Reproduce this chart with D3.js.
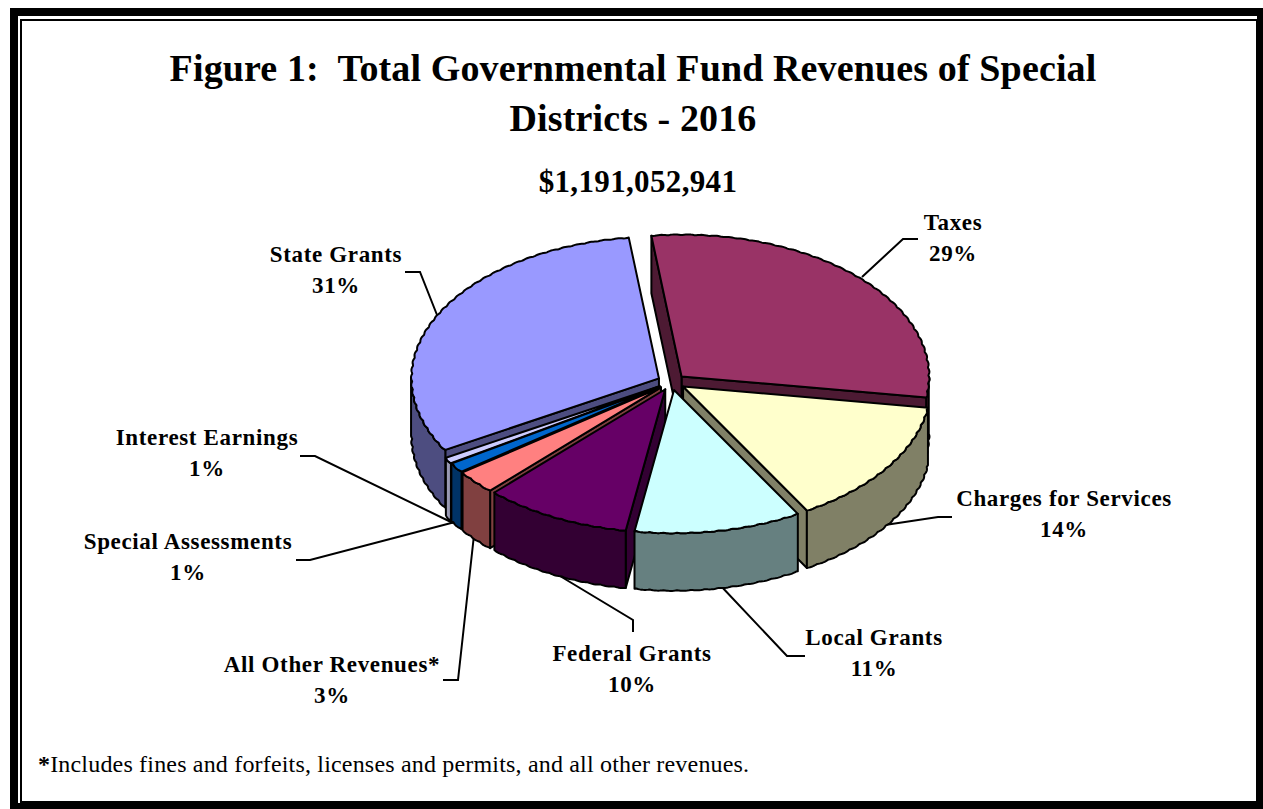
<!DOCTYPE html>
<html lang="en">
<head>
  <meta charset="UTF-8">
  <title>Total Governmental Fund Revenues of Special Districts - 2016</title>
  <script src="https://d3js.org/d3.v7.min.js"></script>
  <style>
    body { margin: 0; background: #fff; }
    svg { display: block; }
    text { font-family: "Liberation Serif", serif; fill: #000; }
    .title { font-size: 38px; font-weight: bold; text-anchor: middle; letter-spacing: 0.13px; }
    .total { font-size: 31px; font-weight: bold; text-anchor: middle; letter-spacing: 0.35px; }
    .label { font-size: 23px; font-weight: bold; text-anchor: middle; letter-spacing: 0.65px; }
    .note { font-size: 24px; letter-spacing: 0.18px; }
  </style>
</head>
<body>
<svg id="chart" width="1263" height="809" viewBox="0 0 1263 809"></svg>
<script>
  // values are share of the circle
  const categories = ["Taxes", "Charges for Services", "Local Grants", "Federal Grants",
    "All Other Revenues*", "Special Assessments", "Interest Earnings", "State Grants"];
  const shares = [29.3, 14.3, 10.9, 9.6, 2.7, 1.1, 0.7, 31.4];
  const topColors = ["#993366", "#ffffcc", "#ccffff", "#660066", "#ff8080", "#0066cc", "#ccccff", "#9999ff"];
  const sideColors = ["#4d1a33", "#808066", "#668080", "#330033", "#804040", "#003366", "#9999b3", "#4d4d80"];
  const titleLines = ["Figure 1:  Total Governmental Fund Revenues of Special", "Districts - 2016"];
  const totalText = "$1,191,052,941";
  const noteText = "Includes fines and forfeits, licenses and permits, and all other revenues.";

  // layout of the labels, same order as categories
  const labelAt = [[953, 230], [1064, 506], [874, 645], [632, 661], [332, 672], [188, 549], [207, 445], [336, 262]];
  const leaders = [
    [[862, 277], [903, 239], [918, 239]],
    [[885, 525], [938, 517], [952, 517]],
    [[720, 585], [787, 656], [805, 656]],
    [[555, 573], [633, 620], [633, 632]],
    [[474, 535], [458, 680], [443, 680]],
    [[455, 522], [310, 560], [296, 560]],
    [[453, 523], [315, 456], [300, 456]],
    [[439, 320], [420, 272], [405, 272]]
  ];

  const svg = d3.select("#chart");
  const rad = Math.PI / 180;
  const depth = 57.5;
  const explode = 0.0565;

  const xScale = d3.scaleLinear().domain([-1, 1]).range([671.5 - 248, 671.5 + 248]);
  // front half is a touch deeper than the back
  const yScale = d3.scaleLinear().domain([-1, 0, 1]).range([382 - 142, 382, 382 + 143.5]);
  const line = d3.line();

  // frame
  svg.append("rect").attr("width", 1263).attr("height", 809).attr("fill", "#fff");
  svg.append("rect").attr("x", 14).attr("y", 12).attr("width", 1247).attr("height", 795)
    .attr("fill", "none").attr("stroke", "#000").attr("stroke-width", 8);
  svg.append("rect").attr("x", 21).attr("y", 20).attr("width", 1236).attr("height", 782)
    .attr("fill", "none").attr("stroke", "#000").attr("stroke-width", 2);

  svg.selectAll(".title").data(titleLines).join("text")
    .attr("class", "title")
    .attr("x", 633)
    .attr("y", (d, i) => 81 + i * 50)
    .style("white-space", "pre")
    .text(d => d);
  svg.append("text").attr("class", "total").attr("x", 638).attr("y", 192).text(totalText);

  // pie
  const pie = d3.pie().sort(null).value(d => d)
    .startAngle(-7 * rad).endAngle(353 * rad);
  const arcs = pie(shares);

  function apex(d) {
    const mid = (d.startAngle + d.endAngle) / 2;
    return [explode * Math.sin(mid), -explode * Math.cos(mid)];
  }
  // rim radius dips a little every few degrees, the original edge is scalloped
  function rim(d, t) {
    const a = apex(d);
    const r = 1 - 0.005 * (1 - Math.abs(Math.sin(t / (3.2 * rad) * Math.PI)));
    return [xScale(a[0] + r * Math.sin(t)), yScale(a[1] - r * Math.cos(t))];
  }
  function center(d) {
    const a = apex(d);
    return [xScale(a[0]), yScale(a[1])];
  }
  function arcPoints(d, t0, t1) {
    const n = Math.max(2, Math.ceil((t1 - t0) / (0.4 * rad)));
    return d3.range(n + 1).map(i => rim(d, t0 + (t1 - t0) * i / n));
  }
  const down = p => [p[0], p[1] + depth];

  function shape(points, fill) {
    svg.append("path")
      .attr("d", line(points) + "Z")
      .attr("fill", fill)
      .attr("stroke", "#000")
      .attr("stroke-width", 2)
      .attr("stroke-linejoin", "round");
  }

  function drawSlice(i) {
    const d = arcs[i];
    const c = center(d);
    const t0 = d.startAngle, t1 = d.endAngle;
    if (Math.sin(t1) > 0) {
      const p = rim(d, t1);
      shape([c, p, down(p), down(c)], sideColors[i]);
    }
    if (Math.sin(t0) < 0) {
      const p = rim(d, t0);
      shape([c, p, down(p), down(c)], sideColors[i]);
    }
    const w0 = Math.max(t0, 90 * rad), w1 = Math.min(t1, 270 * rad);
    if (w1 > w0) {
      const top = arcPoints(d, w0, w1);
      shape(top.concat(top.map(down).reverse()), sideColors[i]);
    }
    shape([c].concat(arcPoints(d, t0, t1)), topColors[i]);
  }

  // leader lines sit behind the pie
  svg.selectAll(".leader").data(leaders).join("path")
    .attr("class", "leader")
    .attr("d", d => line(d))
    .attr("fill", "none")
    .attr("stroke", "#000")
    .attr("stroke-width", 2);

  // back to front
  [0, 7, 6, 5, 4, 1, 3, 2].forEach(drawSlice);

  const labels = svg.selectAll(".lab").data(categories).join("g").attr("class", "lab");
  labels.append("text").attr("class", "label")
    .attr("x", (d, i) => labelAt[i][0]).attr("y", (d, i) => labelAt[i][1])
    .text(d => d);
  labels.append("text").attr("class", "label")
    .attr("x", (d, i) => labelAt[i][0]).attr("y", (d, i) => labelAt[i][1] + 31)
    .text((d, i) => Math.round(shares[i]) + "%");

  const note = svg.append("text").attr("class", "note").attr("x", 38).attr("y", 772);
  note.append("tspan").attr("font-weight", "bold").text("*");
  note.append("tspan").text(noteText);
</script>
</body>
</html>
